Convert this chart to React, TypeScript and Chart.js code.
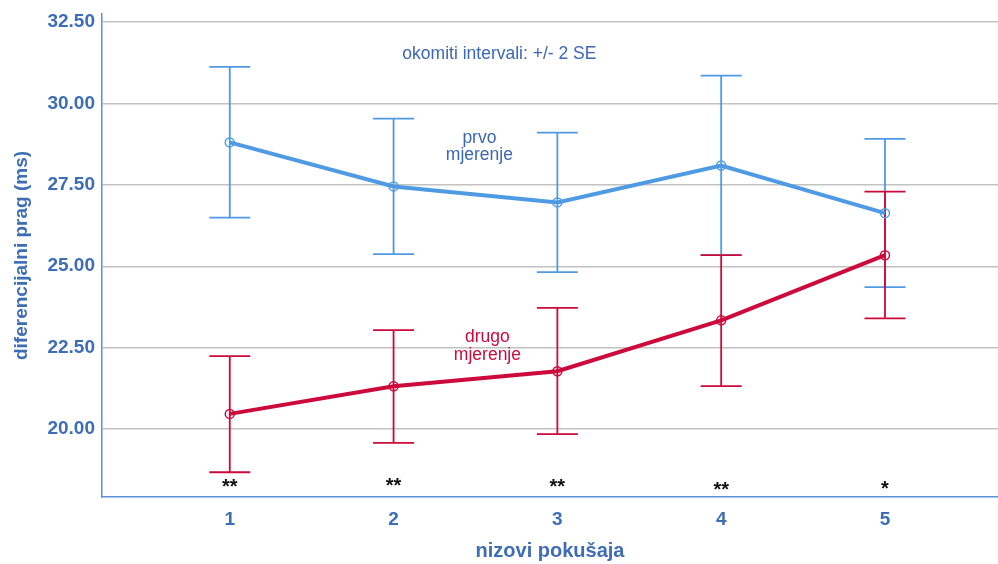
import React, { useEffect, useRef } from "react";
import { Chart, registerables } from "chart.js";

Chart.register(...registerables);

const CATEGORIES = [1, 2, 3, 4, 5];
const X_LABELS = ["1", "2", "3", "4", "5"];
const Y_TICKS = [20, 22.5, 25, 27.5, 30, 32.5];

const PRVO_MEAN = [28.8, 27.45, 26.96, 28.09, 26.63];
const PRVO_LOW = [26.49, 25.37, 24.82, 25.34, 24.36];
const PRVO_HIGH = [31.12, 29.53, 29.1, 30.85, 28.91];

const DRUGO_MEAN = [20.47, 21.32, 21.78, 23.34, 25.34];
const DRUGO_LOW = [18.68, 19.58, 19.85, 21.32, 23.4];
const DRUGO_HIGH = [22.24, 23.04, 23.72, 25.34, 27.29];

const SIGNIF = ["**", "**", "**", "**", "*"];
const SIGNIF_Y = [18.29, 18.35, 18.29, 18.2, 18.23];

const BLUE = "#4f9be3";
const RED = "#cc0a3c";
const AXIS_TEXT = "#3d6db5";
const AXIS_LINE = "#5e90d4";
const GRID = "#c2c2c2";
const FONT = "'Liberation Sans', Arial, sans-serif";

const errorBarPlugin = {
  id: "errorBars",
  beforeDatasetsDraw(chart: any) {
    const { ctx, scales } = chart;
    const xs = scales.x;
    const ys = scales.y;
    const groups = [
      { low: PRVO_LOW, high: PRVO_HIGH, color: BLUE },
      { low: DRUGO_LOW, high: DRUGO_HIGH, color: RED },
    ];
    ctx.save();
    ctx.lineWidth = 1.8;
    const half = 20.5;
    groups.forEach((g) => {
      ctx.strokeStyle = g.color;
      CATEGORIES.forEach((c, i) => {
        const x = xs.getPixelForValue(c);
        const yl = ys.getPixelForValue(g.low[i]);
        const yh = ys.getPixelForValue(g.high[i]);
        ctx.beginPath();
        ctx.moveTo(x, yl);
        ctx.lineTo(x, yh);
        ctx.moveTo(x - half, yl);
        ctx.lineTo(x + half, yl);
        ctx.moveTo(x - half, yh);
        ctx.lineTo(x + half, yh);
        ctx.stroke();
      });
    });
    ctx.restore();
  },
  afterDatasetsDraw(chart: any) {
    const { ctx, scales } = chart;
    const xs = scales.x;
    const ys = scales.y;
    ctx.save();
    ctx.textAlign = "center";
    ctx.textBaseline = "middle";
    ctx.font = `17.5px ${FONT}`;
    ctx.fillStyle = "#3b67b3";
    ctx.fillText("okomiti intervali: +/- 2 SE", xs.getPixelForValue(2.646), ys.getPixelForValue(31.52));
    ctx.fillText("prvo", xs.getPixelForValue(2.524), ys.getPixelForValue(28.92));
    ctx.fillText("mjerenje", xs.getPixelForValue(2.524), ys.getPixelForValue(28.4));
    ctx.fillStyle = RED;
    ctx.fillText("drugo", xs.getPixelForValue(2.573), ys.getPixelForValue(22.83));
    ctx.fillText("mjerenje", xs.getPixelForValue(2.573), ys.getPixelForValue(22.27));
    ctx.fillStyle = "#111111";
    ctx.font = `bold 20px ${FONT}`;
    CATEGORIES.forEach((c, i) => {
      ctx.fillText(SIGNIF[i], xs.getPixelForValue(c), ys.getPixelForValue(SIGNIF_Y[i]) + 3);
    });
    ctx.restore();
  },
};

export default function App() {
  const ref = useRef<HTMLCanvasElement>(null);

  useEffect(() => {
    if (!ref.current) return;
    const chart = new Chart(ref.current, {
      type: "line",
      data: {
        datasets: [
          {
            label: "prvo mjerenje",
            data: CATEGORIES.map((c, i) => ({ x: c, y: PRVO_MEAN[i] })),
            borderColor: BLUE,
            backgroundColor: "rgba(0,0,0,0)",
            borderWidth: 4,
            pointRadius: 4.5,
            pointBorderWidth: 1.5,
            pointBackgroundColor: "rgba(255,255,255,0)",
            pointBorderColor: BLUE,
            tension: 0,
          },
          {
            label: "drugo mjerenje",
            data: CATEGORIES.map((c, i) => ({ x: c, y: DRUGO_MEAN[i] })),
            borderColor: RED,
            backgroundColor: "rgba(0,0,0,0)",
            borderWidth: 4,
            pointRadius: 4.5,
            pointBorderWidth: 1.5,
            pointBackgroundColor: "rgba(255,255,255,0)",
            pointBorderColor: RED,
            tension: 0,
          },
        ],
      },
      options: {
        animation: false,
        responsive: false,
        layout: { autoPadding: false, padding: { top: 14, right: 0, left: 0, bottom: 0 } },
        plugins: {
          legend: { display: false },
          tooltip: { enabled: false },
        },
        scales: {
          x: {
            type: "linear",
            min: 0.22,
            max: 5.69,
            afterBuildTicks: (scale: any) => {
              scale.ticks = CATEGORIES.map((v) => ({ value: v }));
            },
            afterFit: (scale: any) => {
              scale.height = 67;
              scale.paddingLeft = 0;
              scale.paddingRight = 0;
            },
            grid: { display: false, drawTicks: false },
            border: { display: true, color: AXIS_LINE, width: 1.5 },
            ticks: {
              padding: 11,
              color: AXIS_TEXT,
              font: { family: FONT, size: 19, weight: "bold" },
              callback: (v: any) => X_LABELS[CATEGORIES.indexOf(Number(v))] ?? "",
              maxRotation: 0,
            },
            title: {
              display: true,
              text: "nizovi pokušaja",
              color: AXIS_TEXT,
              font: { family: FONT, size: 20, weight: "bold" },
              padding: { top: 0, bottom: 1 },
            },
          },
          y: {
            type: "linear",
            min: 17.92,
            max: 32.74,
            afterBuildTicks: (scale: any) => {
              scale.ticks = Y_TICKS.map((v) => ({ value: v }));
            },
            afterFit: (scale: any) => {
              scale.width = 102;
              scale.paddingTop = 0;
              scale.paddingBottom = 0;
            },
            grid: { display: true, color: GRID, lineWidth: 1.5, drawTicks: false },
            border: { display: true, color: AXIS_LINE, width: 1.5 },
            ticks: {
              padding: 7,
              color: AXIS_TEXT,
              font: { family: FONT, size: 19, weight: "bold" },
              callback: (v: any) => Number(v).toFixed(2),
            },
            title: {
              display: true,
              text: "diferencijalni prag (ms)",
              color: AXIS_TEXT,
              font: { family: FONT, size: 19, weight: "bold" },
              padding: { top: 10, bottom: 0 },
            },
          },
        },
      },
      plugins: [errorBarPlugin],
    } as any);
    return () => chart.destroy();
  }, []);

  return (
    <div style={{ position: "absolute", left: 0, top: 0, width: 998, height: 564, background: "#ffffff" }}>
      <canvas ref={ref} width={998} height={564} style={{ display: "block" }} />
    </div>
  );
}
